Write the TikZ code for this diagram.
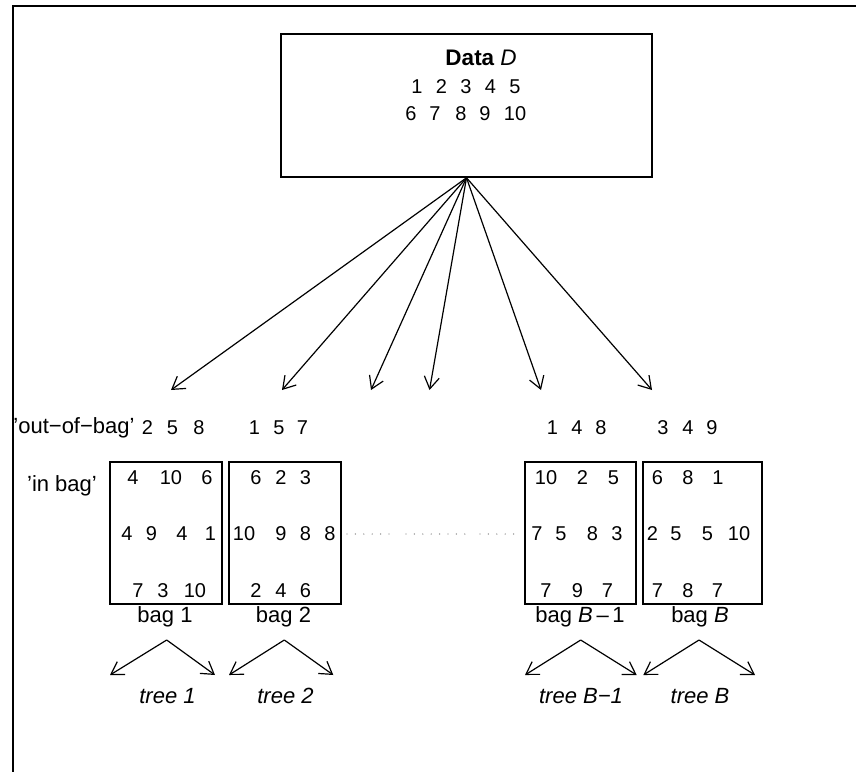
\documentclass[tikz,border=0pt]{standalone}
\usepackage{fontspec}
\setmainfont{Liberation Sans}
\usetikzlibrary{arrows.meta}

\tikzset{
  box/.style={draw, line width=1.6pt, rectangle, inner sep=0pt},
  num/.style={anchor=base, inner sep=0pt, font=\fontsize{20}{24}\selectfont},
  lbl/.style={anchor=base, inner sep=0pt, font=\fontsize{22}{26}\selectfont},
  tlbl/.style={anchor=base, inner sep=0pt, font=\fontsize{22}{26}\selectfont\itshape},
  arr/.style={line width=1.2pt, -{Straight Barb[length=12pt,width=15pt,line width=1.2pt]}},
  dots/.style={gray, line width=1.4pt, line cap=round, dash pattern=on 0pt off 8.4pt}
}

\begin{document}
\begin{tikzpicture}[x=1pt, y=-1pt]
\useasboundingbox (0,0) rectangle (856,771);

% plot frame (top and left edges)
\draw[line width=2pt] (12.5,780) -- (12.5,6) -- (870,6);

% data set
\node[box, minimum width=371pt, minimum height=143pt] (data) at (466.5,105.5) {};
\node[lbl, font=\fontsize{22.5}{26}\selectfont\bfseries] (dtitle) at (481,65) {Data\hspace{6pt}{\mdseries\itshape D}};
\foreach \x/\v [count=\i] in {417/1,441.5/2,466/3,490.5/4,515/5}
  \node[num] (dr1\i) at (\x,93) {\v};
\foreach \x/\v [count=\i] in {411/6,435/7,461/8,485/9,515/10}
  \node[num] (dr2\i) at (\x,120) {\v};

% bootstrap draws
\foreach \x [count=\i] in {171,282,371,429.5,541,652}
  \coordinate (t\i) at (\x,390);
\foreach \i in {1,...,6}
  \draw[arr] (data.south) -- (t\i);

% row captions
\node[lbl] (oob) at (74,433) {’out−of−bag’};
\node[lbl] (inb) at (62,491) {’in bag’};

% out-of-bag samples
\foreach \x/\v [count=\i] in {147.5/2,172.5/5,199/8}
  \node[num] (o1\i) at (\x,434) {\v};
\foreach \x/\v [count=\i] in {254.5/1,279/5,302.5/7}
  \node[num] (o2\i) at (\x,434) {\v};
\foreach \x/\v [count=\i] in {552.5/1,577/4,601/8}
  \node[num] (o3\i) at (\x,434) {\v};
\foreach \x/\v [count=\i] in {663/3,688/4,712/9}
  \node[num] (o4\i) at (\x,434) {\v};

% bags
\node[box, minimum width=111.5pt, minimum height=142.5pt] (bag1) at (166,533) {};
\node[box, minimum width=111.5pt, minimum height=142.5pt] (bag2) at (285,533) {};
\node[box, minimum width=111pt, minimum height=142.5pt] (bag3) at (580.5,533) {};
\node[box, minimum width=119pt, minimum height=142.5pt] (bag4) at (702.5,533) {};

% bag 1 contents
\foreach \x/\v [count=\i] in {133/4,171/10,207/6}
  \node[num] (a1\i) at (\x,484) {\v};
\foreach \x/\v [count=\i] in {127/4,151.5/9,182/4,210.5/1}
  \node[num] (a2\i) at (\x,540.5) {\v};
\foreach \x/\v [count=\i] in {138/7,163/3,195/10}
  \node[num] (a3\i) at (\x,597.5) {\v};

% bag 2 contents
\foreach \x/\v [count=\i] in {256/6,281/2,305.5/3}
  \node[num] (b1\i) at (\x,484) {\v};
\foreach \x/\v [count=\i] in {244/10,281/9,305.5/8,330/8}
  \node[num] (b2\i) at (\x,540.5) {\v};
\foreach \x/\v [count=\i] in {256/2,281/4,305.5/6}
  \node[num] (b3\i) at (\x,597.5) {\v};

% bag B-1 contents
\foreach \x/\v [count=\i] in {546/10,582.5/2,613.5/5}
  \node[num] (c1\i) at (\x,484) {\v};
\foreach \x/\v [count=\i] in {537/7,561/5,592.5/8,617/3}
  \node[num] (c2\i) at (\x,540.5) {\v};
\foreach \x/\v [count=\i] in {546/7,577.5/9,607.5/7}
  \node[num] (c3\i) at (\x,597.5) {\v};

% bag B contents
\foreach \x/\v [count=\i] in {657.5/6,688/8,718/1}
  \node[num] (d1\i) at (\x,484) {\v};
\foreach \x/\v [count=\i] in {652.5/2,676/5,707.5/5,739/10}
  \node[num] (d2\i) at (\x,540.5) {\v};
\foreach \x/\v [count=\i] in {657.5/7,688/8,717.5/7}
  \node[num] (d3\i) at (\x,597.5) {\v};

% ellipsis between the bags
\coordinate (e1a) at (347,534); \coordinate (e1b) at (393,534);
\coordinate (e2a) at (406,534); \coordinate (e2b) at (466,534);
\coordinate (e3a) at (480,534); \coordinate (e3b) at (516,534);
\draw[dots] (e1a) -- (e1b);
\draw[dots] (e2a) -- (e2b);
\draw[dots] (e3a) -- (e3b);

% bag captions
\node[lbl] (n1) at (165,622) {bag 1};
\node[lbl] (n2) at (283.5,622) {bag 2};
\node[lbl] (n3) at (580,622) {bag \textit{B}\,–\,1};
\node[lbl] (n4) at (700,622) {bag \textit{B}};

% trees grown on each bag
\foreach \ax/\lx/\rx [count=\i] in {166.7/110/215, 284.3/229/333.3, 580.7/525/636.7, 699/643.3/755} {
  \coordinate (r\i) at (\ax,640);
  \coordinate (l\i) at (\lx,675);
  \coordinate (q\i) at (\rx,675);
  \draw[arr] (r\i) -- (l\i);
  \draw[arr] (r\i) -- (q\i);
}
\node[tlbl] (tr1) at (167.5,703) {tree 1};
\node[tlbl] (tr2) at (285.5,703) {tree 2};
\node[tlbl] (tr3) at (581,703) {tree B−1};
\node[tlbl] (tr4) at (700,703) {tree B};
\end{tikzpicture}
\end{document}
